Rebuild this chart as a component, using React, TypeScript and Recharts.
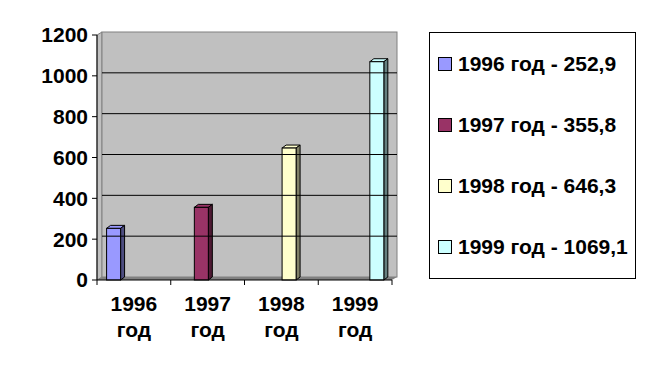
import { BarChart, Bar, XAxis, YAxis, ReferenceArea, ReferenceLine } from 'recharts';

const years = ['1996', '1997', '1998', '1999'];
const values = [252.9, 355.8, 646.3, 1069.1];
const seriesNames = ['1996 год - 252,9', '1997 год - 355,8', '1998 год - 646,3', '1999 год - 1069,1'];
const fills = ['#9999FF', '#993366', '#FFFFCC', '#CCFFFF'];
const sides = ['#4D4D80', '#4D1A33', '#808066', '#668080'];
const yTicks = [0, 200, 400, 600, 800, 1000, 1200];
const gridValues = [200, 400, 600, 800, 1000];

const W = 645;
const H = 365;
const margin = { top: 35, right: 253, bottom: 0, left: 37 };
const band = (W - margin.right - margin.left - 60) / years.length;
const FONT = '"Liberation Sans", Arial, sans-serif';
const FS = 21;

// one row per year, each series only has a value in its own year
const data = years.map((y, i) => {
  const row: any = { name: y };
  years.forEach((_, j) => { row['s' + j] = i === j ? values[i] : null; });
  return row;
});

const bar3d = (fill: string, side: string) => (p: any) => {
  const { x, y, width, height } = p;
  if (!height || height <= 0) return <g />;
  const d = 4, e = 3;
  return (
    <g>
      <polygon points={`${x},${y} ${x + d},${y - e} ${x + width + d},${y - e} ${x + width},${y}`} fill={fill} stroke="#000" />
      <polygon points={`${x + width},${y} ${x + width + d},${y - e} ${x + width + d},${y + height - e} ${x + width},${y + height}`} fill={side} stroke="#000" />
      <rect x={x} y={y} width={width} height={height} fill={fill} stroke="#000" />
    </g>
  );
};

const Wall = (p: any) => {
  const { x, y, width, height } = p;
  const d = 5, e = 3;
  return (
    <g>
      <polygon points={`${x},${y} ${x + d},${y - e} ${x + d},${y + height - e} ${x},${y + height}`} fill="#c0c0c0" stroke="#808080" />
      <rect x={x + d} y={y - e} width={width} height={height} fill="#c0c0c0" stroke="#808080" />
      <polygon points={`${x},${y + height} ${x + d},${y + height - e} ${x + width + d},${y + height - e} ${x + width},${y + height}`} fill="#808080" />
    </g>
  );
};

const GridLine = (p: any) => {
  const { x1, x2, y1 } = p;
  return <line x1={x1 + 5} x2={x2 + 5} y1={y1 - 3} y2={y1 - 3} stroke="#000" strokeWidth={1} />;
};

const XTick = (p: any) => {
  const { x, y, payload, index } = p;
  return (
    <g>
      <line x1={x - band / 2} x2={x - band / 2} y1={y} y2={y + 5} stroke="#000" />
      {index === years.length - 1 && <line x1={x + band / 2} x2={x + band / 2} y1={y} y2={y + 5} stroke="#000" />}
      <text x={x} y={y + 31} textAnchor="middle" fontFamily={FONT} fontSize={FS} fontWeight="bold" fill="#000">{payload.value}</text>
      <text x={x} y={y + 57} textAnchor="middle" fontFamily={FONT} fontSize={FS} fontWeight="bold" fill="#000">год</text>
    </g>
  );
};

const LegendBox = () => (
  <div style={{ position: 'absolute', left: 429, top: 32, width: 207, height: 247, border: '1px solid #000', boxSizing: 'border-box', fontFamily: FONT, fontSize: FS, fontWeight: 'bold', color: '#000', background: '#fff' }}>
    {seriesNames.map((n, i) => (
      <div key={n} style={{ position: 'absolute', left: 8, top: 31 + i * 61 - 12, height: 24, display: 'flex', alignItems: 'center', whiteSpace: 'nowrap' }}>
        <span style={{ display: 'inline-block', width: 12, height: 12, border: '1px solid #000', background: fills[i], marginRight: 6 }} />
        <span>{n}</span>
      </div>
    ))}
  </div>
);

export default function App() {
  return (
    <div style={{ position: 'absolute', left: 0, top: 0, width: W, height: H, background: '#fff' }}>
      <BarChart width={W} height={H} data={data} margin={margin} barCategoryGap="13%" barGap={0}>
        <ReferenceArea y1={0} y2={1200} shape={Wall} ifOverflow="visible" />
        {gridValues.map((v) => (
          <ReferenceLine key={v} y={v} shape={GridLine} ifOverflow="visible" />
        ))}
        <XAxis dataKey="name" axisLine={{ stroke: '#000' }} tickLine={false} tickSize={0} tickMargin={0} tick={XTick} interval={0} height={85} />
        <YAxis domain={[0, 1200]} ticks={yTicks} interval={0} width={60} axisLine={{ stroke: '#000' }} tickLine={{ stroke: '#000' }} tickSize={5} tickMargin={4}
          tick={{ fontFamily: FONT, fontSize: FS, fontWeight: 'bold', fill: '#000' }} />
        {years.map((_, i) => (
          <Bar key={i} dataKey={'s' + i} name={seriesNames[i]} fill={fills[i]} shape={bar3d(fills[i], sides[i])} isAnimationActive={false} />
        ))}
      </BarChart>
      <LegendBox />
    </div>
  );
}
